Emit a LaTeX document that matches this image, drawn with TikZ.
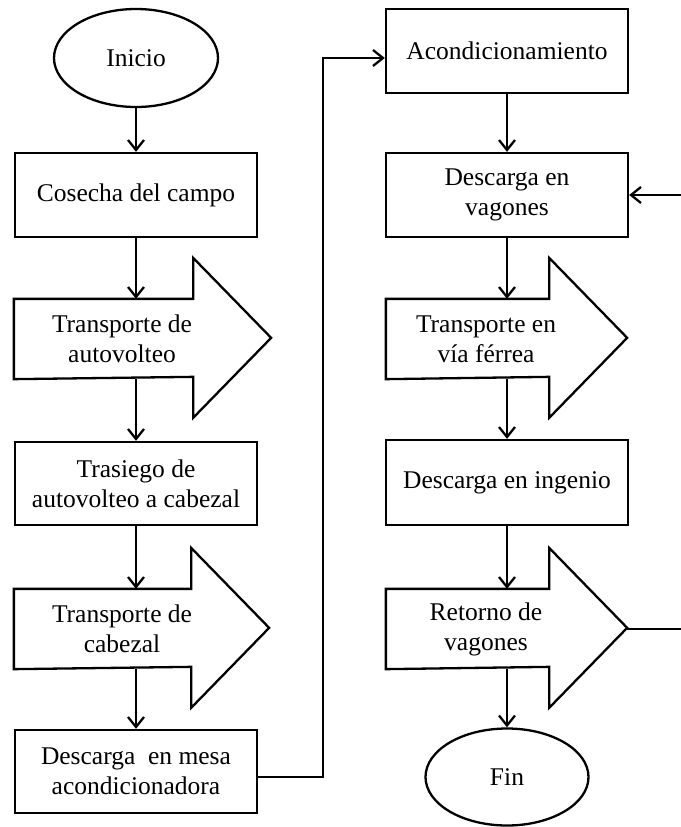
\documentclass[tikz,border=0pt]{standalone}
\usepackage{fontspec}
\setmainfont{Liberation Serif}
\usetikzlibrary{shapes.geometric,arrows.meta}

% contorno de la flecha gruesa alrededor de su cuerpo
\newcommand{\formaflecha}[1]{%
  \draw (#1.north west) -- (#1.north east) -- ++(0,-41) -- ++(78,80)
    -- ++(-78,80) -- ++(0,-41) -- (#1.south west) -- cycle;}

\begin{document}
\begin{tikzpicture}[x=1pt, y=-1pt, line width=2.3pt,
    every node/.style={font=\fontsize{25.5pt}{30pt}\selectfont, align=center, inner sep=0pt},
    caja/.style={rectangle, draw, minimum width=242pt, minimum height=84pt},
    elipse/.style={ellipse, draw, minimum width=164pt, minimum height=98pt},
    cuerpo/.style={rectangle, minimum height=78pt},
    flecha/.style={-{Straight Barb[length=10pt,width=16pt]}}]
      \useasboundingbox (0,0) rectangle (680,827);

      % columna izquierda
      \node[elipse] (inicio) at (136,58) {Inicio};
      \node[caja] (cosecha) at (136,195) {Cosecha del campo};
      \node[cuerpo, minimum width=177pt] (tauto) at (103.5,339) {};
      \node (ttauto) at (122,339) {Transporte de\\autovolteo};
      \node[caja, minimum height=83pt] (trasiego) at (136,483.5) {Trasiego de\\autovolteo a cabezal};
      \node[cuerpo, minimum width=175pt] (tcab) at (102.5,629) {};
      \node (ttcab) at (122,629) {Transporte de\\cabezal};
      \node[caja, minimum height=83pt] (mesa) at (136,771.5) {Descarga~~en mesa\\acondicionadora};

      % columna derecha
      \node[caja] (acond) at (507,51) {Acondicionamiento};
      \node[caja] (dvag) at (507,195) {Descarga en\\vagones};
      \node[cuerpo, minimum width=161pt] (tvia) at (467.5,339) {};
      \node (ttvia) at (486,339) {Transporte en\\vía férrea};
      \node[caja, minimum height=85pt] (ingenio) at (507,482.5) {Descarga en ingenio};
      \node[cuerpo, minimum width=161pt] (tret) at (467.5,629) {};
      \node (ttret) at (486,629) {Retorno de\\vagones};
      \node[elipse, minimum width=163pt, minimum height=97pt] (fin) at (507,777) {Fin};

      \formaflecha{tauto}
      \formaflecha{tcab}
      \formaflecha{tvia}
      \formaflecha{tret}

      \draw[flecha] (inicio.south) -- (cosecha.north);
      \draw[flecha] (cosecha.south) -- (cosecha.south |- tauto.north);
      \draw[flecha] (trasiego.north |- tauto.south) -- (trasiego.north);
      \draw[flecha] (trasiego.south) -- (trasiego.south |- tcab.north);
      \draw[flecha] (mesa.north |- tcab.south) -- (mesa.north);
      \draw[flecha] ([yshift=-5.5pt]mesa.east) -- ++(65,0) |- ([yshift=-7pt]acond.west);

      \draw[flecha] (acond.south) -- (dvag.north);
      \draw[flecha] (dvag.south) -- (dvag.south |- tvia.north);
      \draw[flecha] (ingenio.north |- tvia.south) -- (ingenio.north);
      \draw[flecha] (ingenio.south) -- (ingenio.south |- tret.north);
      \draw[flecha] (fin.north |- tret.south) -- (fin.north);
      \draw[flecha] ([xshift=78pt]tret.east) -- ++(60,0) |- (dvag.east);
    \end{tikzpicture}
\end{document}
